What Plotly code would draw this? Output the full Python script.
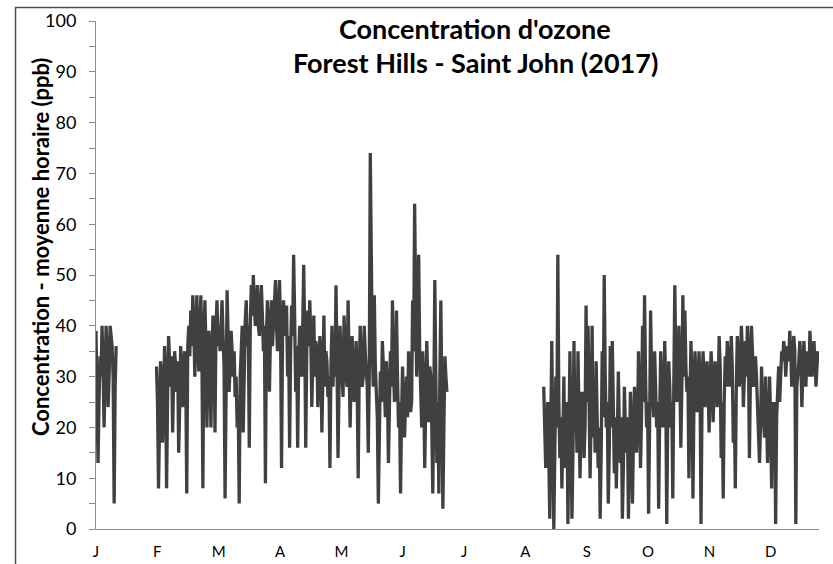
import plotly.graph_objects as go

# Day index (0 = 1 Jan) of the first value of each measured block
jan_start = 0
spring_start = 30
fall_start = 222

# Ozone hourly concentration (ppb):
# *_values are readings at the start of each day, *_mid readings half a day later
jan_values = [39, 13, 34, 40, 20, 40, 24, 40, 36, 5, 36]
jan_mid = [26, 25, 30, 32, 30, 35, 30, 38, 30, 28]

spring_values = [
    32, 8, 33, 17, 36, 8, 38, 28, 19, 35,
    27, 15, 36, 24, 35, 7, 40, 43, 46, 30,
    46, 31, 46, 8, 45, 20, 39, 20, 42, 19,
    45, 40, 43, 38, 6, 47, 27, 39, 30, 26,
    20, 5, 38, 19, 41, 36, 16, 48, 50, 40,
    48, 38, 48, 35, 9, 45, 27, 45, 40, 49,
    35, 49, 12, 45, 38, 30, 16, 44, 54, 27,
    16, 40, 30, 52, 16, 43, 45, 24, 42, 37,
    24, 38, 19, 42, 35, 26, 12, 40, 35, 48,
    14, 40, 30, 42, 30, 45, 20, 38, 25, 37,
    10, 40, 28, 40, 30, 15, 74, 35, 46, 26,
    5, 31, 37, 28, 33, 13, 35, 45, 25, 43,
    20, 7, 32, 18, 30, 35, 23, 45, 64, 30,
    54, 25, 35, 12, 37, 21, 30, 7, 49, 13,
    7, 45, 4, 34, 27,
]
spring_mid = [
    25, 28, 30, 25, 30, 26, 33, 34, 30, 32,
    33, 24, 31, 33, 30, 36, 34, 36, 40, 38,
    35, 40, 35, 38, 36, 34, 30, 35, 38, 40,
    36, 35, 45, 32, 40, 38, 32, 35, 35, 30,
    25, 30, 40, 36, 45, 40, 40, 42, 44, 43,
    40, 44, 42, 40, 38, 40, 38, 36, 42, 40,
    44, 40, 38, 40, 44, 38, 35, 38, 42, 36,
    33, 36, 40, 38, 35, 36, 38, 33, 30, 35,
    30, 33, 30, 28, 33, 30, 32, 28, 30, 33,
    28, 34, 26, 34, 28, 33, 30, 32, 30, 28,
    30, 33, 30, 35, 28, 30, 45, 28, 32, 22,
    25, 25, 32, 22, 28, 24, 28, 32, 30, 30,
    25, 22, 25, 25, 22, 28, 25, 35, 45, 40,
    35, 20, 28, 25, 30, 32, 20, 25, 30, 25,
    30, 25, 20, 30,
]

fall_values = [
    28, 12, 25, 2, 37, 0, 30, 54, 14, 8,
    30, 20, 1, 35, 2, 37, 24, 35, 10, 27,
    14, 44, 40, 10, 40, 25, 33, 12, 2, 35,
    50, 20, 5, 36, 37, 11, 8, 31, 13, 2,
    28, 15, 2, 27, 5, 28, 15, 35, 12, 40,
    46, 20, 3, 43, 25, 35, 20, 4, 35, 20,
    37, 1, 33, 20, 6, 48, 25, 40, 16, 46,
    43, 27, 10, 37, 6, 35, 23, 35, 1, 35,
    24, 33, 19, 35, 21, 33, 24, 38, 14, 6,
    34, 37, 28, 38, 17, 8, 38, 28, 40, 24,
    37, 40, 14, 40, 28, 34, 25, 13, 32, 20,
    30, 13, 30, 8, 20, 1, 30, 25, 35, 37,
    30, 36, 39, 28, 38, 1, 30, 37, 24, 37,
    28, 33, 39, 30, 37, 28, 35,
]
fall_mid = [
    20, 18, 15, 20, 18, 15, 20, 25, 22, 18,
    12, 25, 15, 20, 15, 20, 15, 22, 20, 25,
    20, 25, 25, 22, 18, 15, 22, 20, 15, 22,
    30, 25, 15, 20, 25, 22, 18, 20, 22, 12,
    20, 22, 15, 20, 18, 22, 20, 25, 22, 25,
    30, 25, 20, 30, 22, 28, 25, 22, 28, 25,
    28, 22, 28, 25, 28, 32, 28, 30, 28, 30,
    32, 30, 25, 30, 25, 30, 28, 30, 25, 30,
    28, 28, 28, 30, 28, 30, 27, 32, 25, 25,
    28, 33, 32, 32, 25, 28, 33, 32, 35, 30,
    30, 35, 30, 35, 30, 30, 22, 20, 25, 18,
    24, 20, 22, 25, 25, 22, 32, 30, 33, 35,
    34, 33, 35, 33, 35, 28, 33, 33, 30, 33,
    35, 30, 35, 33, 33, 32,
]

month_labels = ["J", "F", "M", "A", "M", "J", "J", "A", "S", "O", "N", "D"]
label_step_days = 30.4167  # one label every 730 hourly points
axis_end_day = 358.5

x, y = [], []
blocks = [
    (jan_start, jan_values, jan_mid),
    (spring_start, spring_values, spring_mid),
    (fall_start, fall_values, fall_mid),
]
for start, vals, mids in blocks:
    if x:
        x.append(None)
        y.append(None)
    for i, v in enumerate(vals):
        x.append(start + i)
        y.append(v)
        if i < len(mids):
            x.append(start + i + 0.5)
            y.append(mids[i])

fig = go.Figure()
fig.add_trace(go.Scatter(
    x=x, y=y, mode="lines", connectgaps=False,
    line=dict(color="#404040", width=3.3),
    showlegend=False, hoverinfo="skip",
))

W, H = 833, 564
L, R, T, B = 96, 14, 21, 35
pw, ph = W - L - R, H - T - B

def px2paper_x(px):
    return (px - L) / pw

def py2paper_y(py):
    return (H - B - py) / ph

fig.update_layout(
    width=W, height=H,
    margin=dict(l=L, r=R, t=T, b=B, autoexpand=False),
    paper_bgcolor="white", plot_bgcolor="white",
    font=dict(family="Lato, 'Open Sans', sans-serif", color="#000000"),
    xaxis=dict(
        range=[0, axis_end_day],
        tickmode="array",
        tickvals=[i * label_step_days for i in range(12)],
        ticktext=month_labels,
        showgrid=False, zeroline=False, automargin=False,
        showline=True, linecolor="#8c8c8c", linewidth=1,
        ticks="", tickfont=dict(size=15, color="#000000"),
        ticklabelstandoff=9,
    ),
    yaxis=dict(
        range=[0, 100],
        tickmode="linear", tick0=0, dtick=10,
        showgrid=False, zeroline=False, automargin=False,
        showline=True, linecolor="#8c8c8c", linewidth=1,
        ticks="outside", ticklen=6, tickcolor="#8c8c8c", tickwidth=1,
        minor=dict(dtick=5, ticks="outside", ticklen=6, tickcolor="#8c8c8c", tickwidth=1),
        tickfont=dict(size=18, color="#000000"),
        ticklabelstandoff=9,
    ),
    annotations=[
        dict(text="<b>Concentration d'ozone</b>", xref="paper", yref="paper",
             x=px2paper_x(475), y=py2paper_y(29), xanchor="center", yanchor="middle",
             showarrow=False, font=dict(size=27, color="#000000")),
        dict(text="<b>Forest Hills - Saint John (2017)</b>", xref="paper", yref="paper",
             x=px2paper_x(475), y=py2paper_y(63), xanchor="center", yanchor="middle",
             showarrow=False, font=dict(size=27, color="#000000")),
        dict(text="<b>Concentration - moyenne horaire (ppb)</b>", xref="paper", yref="paper",
             x=px2paper_x(40), y=py2paper_y(247), xanchor="center", yanchor="middle",
             textangle=-90, showarrow=False, font=dict(size=22, color="#000000")),
    ],
    shapes=[
        dict(type="rect", xref="paper", yref="paper",
             x0=px2paper_x(15.5), y0=py2paper_y(580), x1=px2paper_x(850), y1=py2paper_y(7.5),
             line=dict(color="#4d4d4d", width=1.5), fillcolor="rgba(0,0,0,0)", layer="below"),
    ],
)

fig.write_html(
    "out.html",
    config={"displayModeBar": False},
    post_script="document.body.style.margin='0';document.body.style.overflow='hidden';",
)
